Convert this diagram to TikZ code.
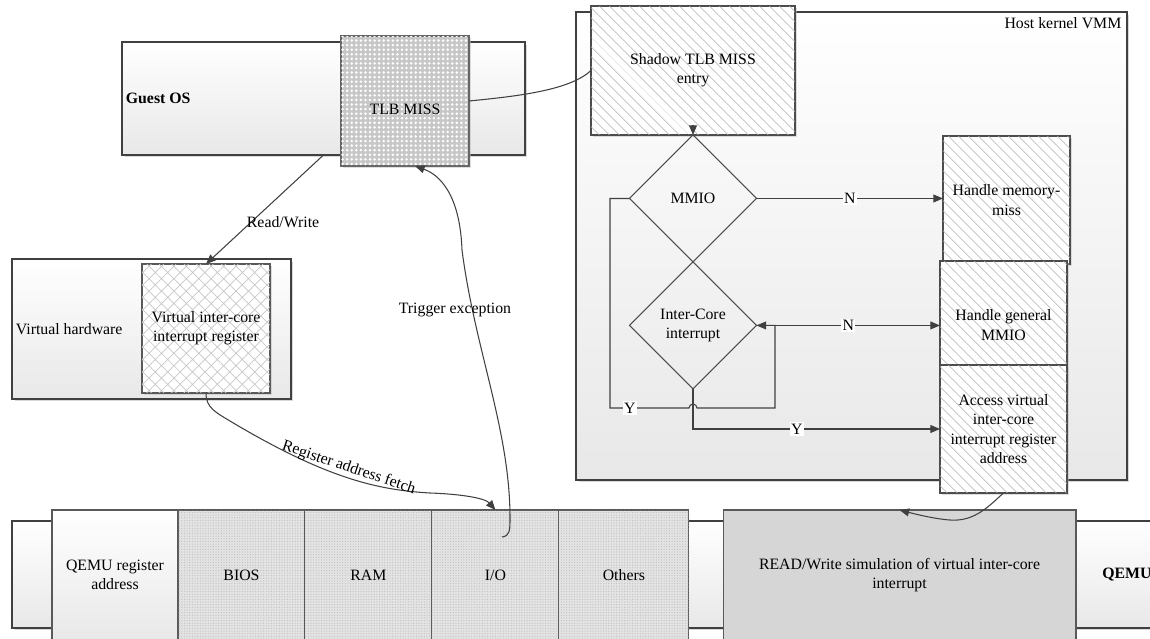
\documentclass[tikz,border=0pt]{standalone}
\usepackage{fontspec}
\setmainfont{Liberation Serif}
\newfontfamily\diagserif{Liberation Serif}
\usetikzlibrary{positioning, shapes.geometric, shadows, patterns.meta, arrows.meta}
\newcommand\diagfont{\diagserif\fontsize{9}{11}\selectfont}

\begin{document}
\begin{tikzpicture}[x=0.02cm, y=-0.02cm, font=\diagfont,
  ftip/.tip={Triangle[length=5.5pt, width=4.5pt]},
  frame/.style={draw=black!75, line width=1.4pt, top color=white, bottom color=black!9, inner sep=0pt, outer sep=0pt,
    drop shadow={shadow xshift=0.05cm, shadow yshift=-0.05cm, fill=black!30}},
  hatchbox/.style={draw=black!70, line width=0.6pt, fill=white, align=center, inner sep=1pt, outer sep=0pt,
    minimum width=2.54cm, minimum height=2.56cm,
    postaction={pattern={Lines[angle=-45, distance=4pt, line width=0.4pt]}, pattern color=black!30},
    drop shadow={shadow xshift=0.04cm, shadow yshift=-0.04cm, fill=black!25}},
  tlbbox/.style={draw=black!60, line width=0.6pt, fill=black!22, align=center, inner sep=1pt, outer sep=0pt,
    postaction={pattern={Dots[distance=2.6pt, radius=0.8pt]}, pattern color=white},
    drop shadow={shadow xshift=0.04cm, shadow yshift=-0.04cm, fill=black!25}},
  gridbox/.style={draw=black!65, line width=0.6pt, fill=white, align=center, inner sep=1pt, outer sep=0pt,
    postaction={pattern={Hatch[angle=45, distance=5pt, line width=0.4pt]}, pattern color=black!22},
    drop shadow={shadow xshift=0.04cm, shadow yshift=-0.04cm, fill=black!25}},
  decision/.style={diamond, aspect=1, draw=black!70, line width=0.6pt, minimum width=2.54cm, minimum height=2.54cm,
    inner sep=1pt, outer sep=0pt, align=center},
  cell/.style={draw=black!65, line width=0.6pt, minimum height=2.6cm, minimum width=2.54cm, inner sep=1pt, outer sep=0pt, align=center},
  dotcell/.style={cell, fill=black!11, postaction={pattern={Dots[distance=1.5pt, radius=0.35pt]}, pattern color=black!25}},
  line/.style={draw=black!75, line width=0.6pt},
  arr/.style={line, -ftip},
  arrr/.style={line, ftip-ftip},
  yn/.style={fill=white, inner sep=0.8pt},
  lab/.style={inner sep=1pt}
]
\useasboundingbox (0,0) rectangle (1150,639);

% guest side
\node[frame, minimum width=8.06cm, minimum height=2.26cm,
  label={[anchor=west, inner sep=2pt, font=\diagfont\bfseries]west:Guest OS}] (guest) at (323.5,98.5) {};
\node[tlbbox, minimum width=2.56cm, minimum height=2.6cm, text height=0.63cm, text depth=2pt] (tlb) at (405,101) {TLB MISS};

% host kernel
\node[frame, minimum width=11.02cm, minimum height=9.36cm,
  label={[anchor=north east, inner sep=3pt]north east:Host kernel VMM}] (host) at (851.5,246) {};
\node[hatchbox, minimum width=4.08cm, minimum height=2.58cm] (stlb) at (693,70.5) {Shadow TLB MISS\\entry};
\node[decision, below=0pt of stlb] (mmio) {MMIO};
\node[decision, below=0pt of mmio] (inter) {Inter-Core\\interrupt};
\node[hatchbox] (memmiss) at (1006.5,200) {Handle memory-\\miss};
\node[hatchbox] (general) at (1003.5,325) {Handle general\\MMIO};
\node[hatchbox] (access) at (1003.5,429) {Access virtual\\inter-core\\interrupt register\\address};

% virtual hardware
\node[frame, minimum width=5.58cm, minimum height=2.8cm,
  label={[anchor=west, inner sep=2pt]west:Virtual hardware}] (vhw) at (151.5,329) {};
\node[gridbox, minimum width=2.56cm, minimum height=2.58cm] (vreg) at (206,328.5) {Virtual inter-core\\interrupt register};

% QEMU
\node[frame, minimum width=23.76cm, minimum height=2.14cm] (qemu) at (606,574.5) {};
\node[anchor=west, inner sep=0pt, font=\diagfont\bfseries] (qemulab) at (1102,575) {QEMU};
\node[cell, top color=white, bottom color=black!9, minimum width=2.52cm] (qreg) at (115,575) {QEMU register\\address};
\node[dotcell, right=0pt of qreg] (bios) {BIOS};
\node[dotcell, right=0pt of bios] (ram) {RAM};
\node[dotcell, right=0pt of ram] (io) {I/O};
\node[dotcell, right=0pt of io, minimum width=2.6cm] (others) {Others};
\node[cell, fill=black!16, minimum width=7.06cm] (rw) at (899.5,575) {READ/Write simulation of virtual inter-core\\interrupt};

% connectors
\draw[line] (tlb.east) .. controls (520,96) and (570,90) .. (stlb.west);
\draw[arr] (guest.south) -- node[lab, pos=0.62, anchor=west, xshift=-0.12cm] {Read/Write} (vreg.north);
\draw[arr] ([yshift=0.2cm]stlb.south) -- (mmio.north);
\draw[arr] (mmio.east) -- node[yn] {N} (mmio.east -| memmiss.west);
\draw[arrr] (inter.east) -- node[yn] {N} (inter.east -| general.west);

\coordinate (loopl) at (610,408);
\coordinate (loopr) at (775,408);
\coordinate (cross) at (loopl -| inter.south);
\draw[line] (mmio.west) -| (loopl) -- node[yn, pos=0.25] {Y} ([xshift=-0.08cm]cross)
  arc[start angle=180, end angle=0, radius=0.08cm] -- (loopr) |- (inter.east);
\draw[arr] (inter.south) |- node[yn, pos=0.71] {Y} (access.west);

\draw[arr] (access.south) .. controls (990,505) and (975,522) .. (950,520)
  .. controls (935,519) and (915,514) .. (rw.north);

\coordinate (trigsrc) at (502,537);
\draw[arr] (trigsrc) .. controls (510,536) and (510,530) .. (510,518)
  .. controls (510,430) and (475,350) .. (462,250)
  .. controls (460,195) and (440,175) .. ([xshift=0.2cm]tlb.south);
\node[lab] (trig) at (455,310) {Trigger exception};

\draw[arr] (vreg.south) .. controls (206,408) and (215,412) .. (235,424)
  .. controls (330,480) and (380,490) .. (430,493) node[lab, pos=0.48, sloped, above] {Register address fetch}
  .. controls (460,494) and (485,498) .. (io.north);
\end{tikzpicture}
\end{document}
